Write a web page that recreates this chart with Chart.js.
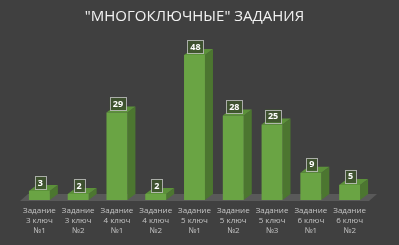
<!DOCTYPE html>
<html>
<head>
<meta charset="utf-8">
<script src="https://cdn.jsdelivr.net/npm/chart.js@4"></script>
<style>
  html, body { margin: 0; padding: 0; background: #404040; }
  #wrap { width: 399px; height: 245px; }
</style>
</head>
<body>
<div id="wrap"><canvas id="bar-chart" width="399" height="245"></canvas></div>
<script>
var chartTitle = '"МНОГОКЛЮЧНЫЕ" ЗАДАНИЯ';
var categories = [
    ['Задание', '3 ключ', '№1'],
    ['Задание', '3 ключ', '№2'],
    ['Задание', '4 ключ', '№1'],
    ['Задание', '4 ключ', '№2'],
    ['Задание', '5 ключ', '№1'],
    ['Задание', '5 ключ', '№2'],
    ['Задание', '5 ключ', '№3'],
    ['Задание', '6 ключ', '№1'],
    ['Задание', '6 ключ', '№2']
];
var counts = [3, 2, 29, 2, 48, 28, 25, 9, 5];

// depth of the fake 3d effect
var DX = 8, DY = 6;

// floor + sides + tops of the bars
var bars3d = {
    id: 'bars3d',
    beforeDatasetsDraw: function(chart) {
        var c = chart.ctx, a = chart.chartArea;
        c.save();
        c.fillStyle = '#595959';
        c.beginPath();
        c.moveTo(a.left, a.bottom + 1);
        c.lineTo(a.right, a.bottom + 1);
        c.lineTo(a.right + DX, a.bottom - DY);
        c.lineTo(a.left + DX, a.bottom - DY);
        c.closePath();
        c.fill();

        var meta = chart.getDatasetMeta(0);
        meta.data.forEach(function(bar) {
            var l = bar.x - bar.width / 2, r = bar.x + bar.width / 2;
            var t = bar.y, b = bar.base;
            // side
            c.fillStyle = '#4c7630';
            c.beginPath();
            c.moveTo(r, t);
            c.lineTo(r + DX, t - DY);
            c.lineTo(r + DX, b - DY);
            c.lineTo(r, b);
            c.closePath();
            c.fill();
            // top
            c.fillStyle = '#5c913a';
            c.beginPath();
            c.moveTo(l, t);
            c.lineTo(r, t);
            c.lineTo(r + DX, t - DY);
            c.lineTo(l + DX, t - DY);
            c.closePath();
            c.fill();
        });
        c.restore();
    },
    afterDatasetsDraw: function(chart) {
        var c = chart.ctx;
        var meta = chart.getDatasetMeta(0);
        c.save();
        c.font = 'bold 9px "Open Sans", sans-serif';
        c.textAlign = 'center';
        c.textBaseline = 'middle';
        meta.data.forEach(function(bar, i) {
            var txt = String(counts[i]);
            var w = c.measureText(txt).width + 6;
            var h = 13;
            var cx = bar.x + 1;
            var bottom = bar.y - 2;
            c.fillStyle = 'rgba(62, 82, 46, 0.92)';
            c.fillRect(cx - w / 2, bottom - h, w, h);
            c.strokeStyle = 'rgba(190, 190, 190, 0.85)';
            c.lineWidth = 1;
            c.strokeRect(Math.round(cx - w / 2) + 0.5, Math.round(bottom - h) + 0.5, Math.round(w), h);
            c.fillStyle = '#ffffff';
            c.fillText(txt, cx, bottom - h / 2 + 0.5);
        });
        c.restore();
    }
};

var ctx = document.getElementById('bar-chart').getContext('2d');
var myChart = new Chart(ctx, {
    type: 'bar',
    data: {
        labels: categories,
        datasets: [{
            data: counts,
            backgroundColor: '#6aa444',
            borderWidth: 0,
            categoryPercentage: 1,
            barPercentage: 0.54
        }]
    },
    options: {
        responsive: false,
        animation: false,
        events: [],
        layout: { padding: { left: 20, right: 30, top: 0, bottom: 3 } },
        plugins: {
            legend: { display: false },
            tooltip: { enabled: false },
            title: {
                display: true,
                text: chartTitle,
                color: '#f2f2f2',
                font: { family: '"Open Sans", sans-serif', size: 15, weight: 'normal' },
                padding: { top: 8, bottom: 23 }
            }
        },
        scales: {
            x: {
                grid: { display: false, drawTicks: false },
                border: { display: false },
                ticks: {
                    color: '#c4c4c4',
                    font: { family: '"Open Sans", sans-serif', size: 8, lineHeight: 1.25 },
                    padding: 6,
                    maxRotation: 0,
                    autoSkip: false
                }
            },
            y: {
                display: false,
                min: 0,
                max: 50
            }
        }
    },
    plugins: [bars3d]
});
</script>
</body>
</html>
